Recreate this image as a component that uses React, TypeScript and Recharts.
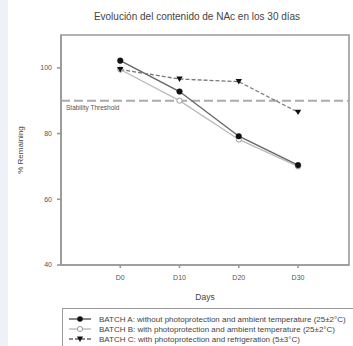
import React from 'react';
import {LineChart, Line, XAxis, YAxis, ReferenceLine, ReferenceArea, Legend} from 'recharts';

const days = [0, 10, 20, 30];
const dayLabels = ['D0', 'D10', 'D20', 'D30'];
const batchA = [102.2, 92.8, 79.2, 70.4];
const batchB = [99.5, 90.0, 78.2, 70.0];
const batchC = [99.5, 96.6, 95.8, 86.5];
const yTicks = [40, 60, 80, 100];
const threshold = 90;

const seriesNames = [
    'BATCH A: without photoprotection and ambient temperature (25±2°C)',
    'BATCH B: with photoprotection and ambient temperature (25±2°C)',
    'BATCH C: with photoprotection and refrigeration (5±3°C)',
];

const data = days.map((d, i) => ({
    day: d,
    a: batchA[i],
    b: batchB[i],
    c: batchC[i],
}));

const FONT = '"Liberation Sans", Arial, sans-serif';
const X_DOMAIN: [number, number] = [-10, 38.6];
const Y_DOMAIN: [number, number] = [40, 110];

const Triangle = (props: any) => {
    const {cx, cy} = props;
    if (cx == null || cy == null) return null;
    const s = 3.2;
    return <path d={`M${cx - s},${cy - s * 0.8} L${cx + s},${cy - s * 0.8} L${cx},${cy + s * 0.9} Z`} fill="#111"/>;
};

// little symbol used in the legend box
const LegendSymbol = ({kind}: {kind: string}) => {
    const stroke = kind === 'b' ? '#bbb' : kind === 'a' ? '#555' : '#666';
    return (
        <svg width={24} height={10} style={{display: 'block'}}>
            <line x1={1} y1={5} x2={23} y2={5} stroke={stroke} strokeWidth={1.4}
                  strokeDasharray={kind === 'c' ? '4 2' : undefined}/>
            {kind === 'a' && <circle cx={12} cy={5} r={2.8} fill="#111"/>}
            {kind === 'b' && <circle cx={12} cy={5} r={2.6} fill="#fff" stroke="#999" strokeWidth={1}/>}
            {kind === 'c' && <path d="M9,2.4 L15,2.4 L12,8 Z" fill="#111"/>}
        </svg>
    );
};

const LegendBox = () => (
    <div style={{
        border: '1.5px solid #999',
        padding: '5px 0 0 5px',
        height: 45,
        boxSizing: 'border-box',
        background: '#fff',
        color: '#444',
    }}>
        {['a', 'b', 'c'].map((k, i) => (
            <div key={k} style={{display: 'flex', alignItems: 'center', height: 10}}>
                <LegendSymbol kind={k}/>
                <span style={{
                    fontFamily: FONT, fontSize: 8, color: '#444', marginLeft: 7, whiteSpace: 'nowrap'
                }}>{seriesNames[i]}</span>
            </div>
        ))}
    </div>
);

const App = () => {
    return (
        <div style={{position: 'absolute', left: 0, top: 0, width: 353, height: 346, background: '#fff', overflow: 'hidden'}}>
            <div style={{position: 'absolute', left: 0, top: 0, width: 8, height: 346, background: '#eef2f8'}}/>
            <div style={{
                position: 'absolute', left: 47, top: 11, width: 300, textAlign: 'center',
                fontFamily: FONT, fontSize: 10, color: '#444', whiteSpace: 'nowrap'
            }}>
                Evolución del contenido de NAc en los 30 días
            </div>
            <LineChart
                width={353}
                height={346}
                data={data}
                margin={{top: 35, right: 4, left: 0, bottom: 51}}
                style={{position: 'absolute', left: 0, top: 0}}
            >
                {/* plot frame */}
                <ReferenceArea x1={X_DOMAIN[0]} x2={X_DOMAIN[1]} y1={Y_DOMAIN[0]} y2={Y_DOMAIN[1]}
                               fill="none" fillOpacity={0} stroke="#999" strokeWidth={1.6}/>
                <XAxis
                    dataKey="day"
                    type="number"
                    domain={X_DOMAIN}
                    ticks={days}
                    tickFormatter={(v) => dayLabels[days.indexOf(v)]}
                    height={30}
                    tickSize={3}
                    tickMargin={7}
                    stroke="#999"
                    strokeWidth={1.6}
                    tick={{fontSize: 7, fill: '#555', fontFamily: FONT}}
                    label={{value: 'Days', position: 'bottom', offset: -1, fontSize: 8.5, fill: '#444', fontFamily: FONT}}
                />
                <YAxis
                    domain={Y_DOMAIN}
                    ticks={yTicks}
                    width={61}
                    tickSize={4}
                    tickMargin={5}
                    stroke="#999"
                    strokeWidth={1.6}
                    tick={{fontSize: 7, fill: '#555', fontFamily: FONT}}
                    label={{value: '% Remaining', angle: -90, position: 'insideLeft', offset: 20, fontSize: 8, fill: '#444', fontFamily: FONT, style: {textAnchor: 'middle'}}}
                />
                <ReferenceLine
                    y={threshold}
                    stroke="#aaa"
                    strokeWidth={2}
                    strokeDasharray="9 4"
                    label={{value: 'Stability Threshold', position: 'insideTopLeft', offset: 5, fontSize: 6.5, fill: '#555', fontFamily: FONT}}
                />
                <Line dataKey="b" stroke="#bbb" strokeWidth={1.4} isAnimationActive={false}
                      dot={{r: 2.6, fill: '#fff', stroke: '#999', strokeWidth: 1}}/>
                <Line dataKey="a" stroke="#666" strokeWidth={1.4} isAnimationActive={false}
                      dot={{r: 2.8, fill: '#111', stroke: '#111', strokeWidth: 0.5}}/>
                <Line dataKey="c" stroke="#777" strokeWidth={1.3} strokeDasharray="4 2" isAnimationActive={false}
                      dot={<Triangle/>}/>
                <Legend
                    layout="horizontal"
                    verticalAlign="middle"
                    content={() => <LegendBox/>}
                    wrapperStyle={{position: 'absolute', top: 308, left: 62, width: 300, height: 45, bottom: 'auto', right: 'auto'}}
                />
            </LineChart>
        </div>
    );
};

export default App;
